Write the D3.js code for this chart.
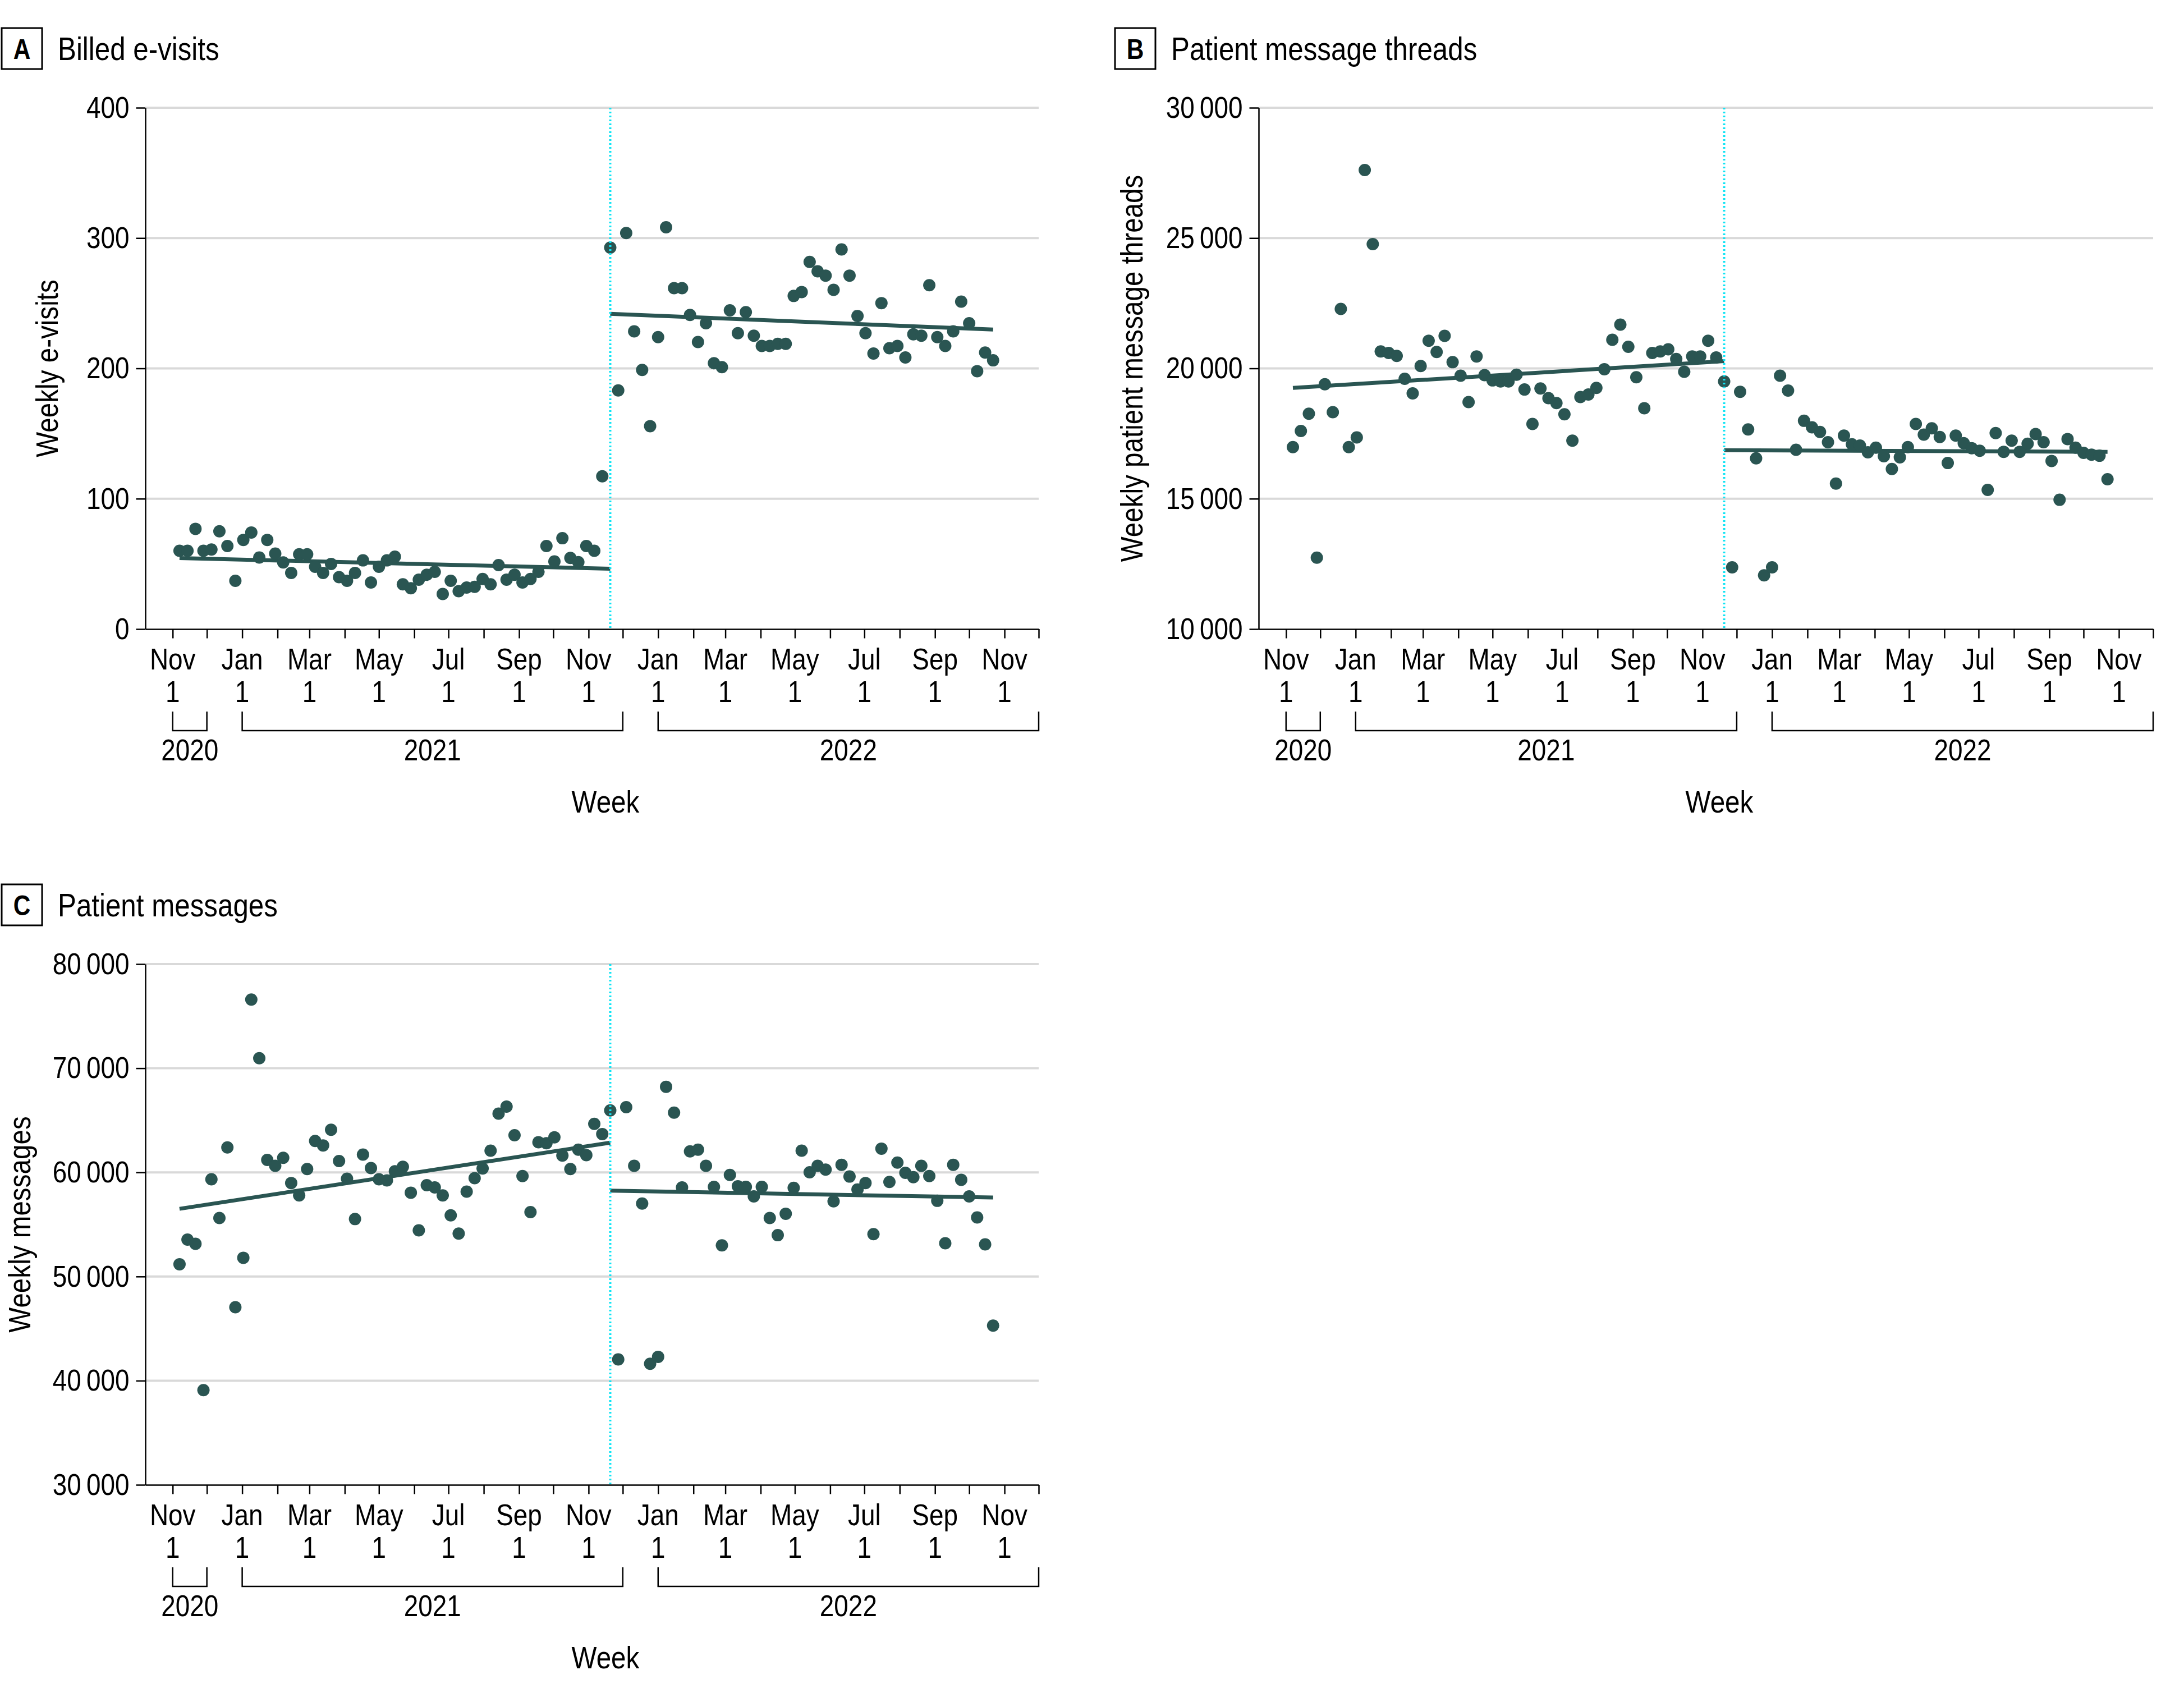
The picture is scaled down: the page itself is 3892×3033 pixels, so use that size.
<!DOCTYPE html>
<html>
<head>
<meta charset="utf-8">
<script src="https://cdn.jsdelivr.net/npm/d3@7"></script>
<style>
  body { margin: 0; background: #fff; }
  text { font-family: "Liberation Sans", Arial, sans-serif; fill: #000; }
</style>
</head>
<body>
<svg id="chart" width="3892" height="3033"></svg>
<script>
// weekly counts, first week 2020-11-07, 103 weeks
const eVisits = [
  60.1, 60.1, 76.9, 60.1, 61, 75, 63.7, 37, 68.4, 74.1,
  54.9, 68.4, 57.9, 51.1, 43.1, 57.4, 57.4, 47.8, 43.1, 50,
  39.8, 37, 43.1, 52.7, 35.7, 47.8, 52.7, 55.5, 34.3, 31.3,
  37.9, 41.7, 43.9, 26.9, 37, 29.1, 31.9, 32.4, 38.4, 34.3,
  49.1, 37.9, 41.7, 35.7, 38.4, 43.9, 63.7, 51.9, 69.7, 54.6,
  51.3, 63.7, 60.1, 117.2, 292.7, 183.1, 303.9, 228.4, 198.8, 155.7,
  224, 308.3, 261.6, 261.6, 241, 220.2, 234.7, 204, 201, 244.6,
  227, 243.2, 225.1, 217.2, 217.2, 218.8, 218.8, 255.6, 258.6, 281.7,
  274.5, 271.2, 260.3, 291.3, 271.2, 240.2, 227, 211.4, 250.1, 215.5,
  217.2, 208.4, 226.2, 225.1, 263.8, 224, 217.2, 228.4, 251.2, 234.7,
  197.9, 212.2, 206.2
];
const threads = [
  16980, 17600, 18260, 12740, 19390, 18320, 22280, 16980, 17350, 27610,
  24770, 20650, 20590, 20480, 19600, 19040, 20090, 21060, 20630, 21250,
  20240, 19720, 18710, 20460, 19740, 19540, 19500, 19500, 19760, 19190,
  17870, 19230, 18860, 18670, 18240, 17230, 18900, 19000, 19250, 19970,
  21100, 21680, 20830, 19660, 18470, 20590, 20650, 20730, 20360, 19870,
  20460, 20460, 21060, 20420, 19500, 12370, 19100, 17660, 16550, 12060,
  12370, 19720, 19150, 16880, 17990, 17740, 17560, 17170, 15580, 17420,
  17090, 17040, 16780, 16960, 16630, 16140, 16590, 16980, 17870, 17460,
  17700, 17370, 16370, 17420, 17130, 16940, 16840, 15340, 17520, 16800,
  17230, 16800, 17110, 17480, 17170, 16450, 14960, 17290, 16960, 16760,
  16690, 16650, 15750
];
const messages = [
  51180, 53550, 53140, 39090, 59340, 55620, 62390, 47050, 51800, 76590,
  70960, 61200, 60630, 61400, 58980, 57790, 60320, 63010, 62590, 64090,
  61090, 59390, 55520, 61710, 60420, 59340, 59230, 60110, 60530, 58050,
  54430, 58770, 58560, 57790, 55880, 54120, 58150, 59440, 60370, 62080,
  65640, 66310, 63570, 59650, 56190, 62900, 62800, 63370, 61610, 60320,
  62180, 61660, 64660, 63680, 65950, 42040, 66260, 60630, 57010, 41620,
  42290, 68220, 65740, 58560, 62020, 62180, 60630, 58610, 52990, 59750,
  58670, 58610, 57690, 58610, 55620, 53970, 56030, 58510, 62080, 60010,
  60630, 60270, 57220, 60730, 59600, 58360, 58980, 54070, 62280, 59080,
  60940, 59960, 59540, 60630, 59650, 57270, 53190, 60730, 59290, 57690,
  55670, 53090, 45290
];

// segmented regression lines: [value at start, value at end] for pre and post
const eVisitsTrend = [[54.5, 46.3], [241.9, 229.8]];
const threadsTrend = [[19250, 20280], [16860, 16800]];
const messagesTrend = [[56500, 62850], [58250, 57580]];

const eVisitsTicks = [0, 100, 200, 300, 400];
const threadsTicks = [10000, 15000, 20000, 25000, 30000];
const messagesTicks = [30000, 40000, 50000, 60000, 70000, 80000];

const yearLabels = ["2020", "2021", "2022"];
const yearStarts = ["2020-11-01", "2021-01-01", "2022-01-01"];
const yearEnds = ["2020-12-01", "2021-12-01", "2022-12-01"];

const firstWeek = "2020-11-07";
const breakIndex = 54; // week of the policy change (dotted line)
const axisStart = "2020-10-08", axisEnd = "2022-12-01";

const panels = [
  { letter: "A", title: "Billed e-visits", yLabel: "Weekly e-visits", values: eVisits, trend: eVisitsTrend,
    ticks: eVisitsTicks, left: 259, top: 192, width: 1592, height: 929, labelGap: 156 },
  { letter: "B", title: "Patient message threads", yLabel: "Weekly patient message threads", values: threads, trend: threadsTrend,
    ticks: threadsTicks, left: 2243, top: 192, width: 1594, height: 929, labelGap: 207 },
  { letter: "C", title: "Patient messages", yLabel: "Weekly messages", values: messages, trend: messagesTrend,
    ticks: messagesTicks, left: 259, top: 1718, width: 1592, height: 928, labelGap: 205 }
];

const dark = "#2a5552";
const squeeze = 0.85; // the journal face is a condensed sans
const fmt = d3.formatLocale({ decimal: ".", thousands: "\u2009", grouping: [3], currency: ["", ""] }).format(",d");
const parse = d3.utcParse("%Y-%m-%d");
const weeks = d3.range(eVisits.length).map(i => d3.utcDay.offset(parse(firstWeek), 7 * i));
const months = d3.utcMonth.range(parse("2020-11-01"), parse("2022-12-02"));
const monthName = d3.utcFormat("%b");

const svg = d3.select("#chart");
svg.append("rect").attr("width", 3892).attr("height", 3033).attr("fill", "#fff");

panels.forEach(p => {
  const g = svg.append("g").attr("transform", `translate(${p.left},${p.top})`);
  const x = d3.scaleUtc().domain([parse(axisStart), parse(axisEnd)]).range([0, p.width]);
  const y = d3.scaleLinear().domain(d3.extent(p.ticks)).range([p.height, 0]);

  // gridlines
  g.append("g").selectAll("line").data(p.ticks.slice(1)).join("line")
    .attr("x1", 0).attr("x2", p.width)
    .attr("y1", d => y(d)).attr("y2", d => y(d))
    .attr("stroke", "#d9d9d9").attr("stroke-width", 4);

  // trend segments
  const segs = [
    [[weeks[0], p.trend[0][0]], [weeks[breakIndex], p.trend[0][1]]],
    [[weeks[breakIndex], p.trend[1][0]], [weeks[weeks.length - 1], p.trend[1][1]]]
  ];
  g.append("g").selectAll("line").data(segs).join("line")
    .attr("x1", d => x(d[0][0])).attr("y1", d => y(d[0][1]))
    .attr("x2", d => x(d[1][0])).attr("y2", d => y(d[1][1]))
    .attr("stroke", dark).attr("stroke-width", 7);

  // weekly points
  g.append("g").selectAll("circle").data(p.values).join("circle")
    .attr("cx", (d, i) => x(weeks[i]))
    .attr("cy", d => y(d))
    .attr("r", 11)
    .attr("fill", dark);

  // policy change line
  g.append("line")
    .attr("x1", x(weeks[breakIndex])).attr("x2", x(weeks[breakIndex]))
    .attr("y1", 0).attr("y2", p.height)
    .attr("stroke", "#10e4f4").attr("stroke-width", 4)
    .attr("stroke-dasharray", "3 4");

  // y axis
  const ya = g.append("g")
    .call(d3.axisLeft(y).tickValues(p.ticks).tickFormat(fmt).tickSize(16.5).tickSizeOuter(0).tickPadding(12))
    .attr("font-size", 54);
  ya.selectAll("line, path").attr("stroke", "#000").attr("stroke-width", 2.5);

  // x axis, monthly ticks, labels every second month
  const xa = g.append("g").attr("transform", `translate(0,${p.height})`)
    .call(d3.axisBottom(x).tickValues(months).tickFormat("").tickSize(16.5).tickSizeOuter(0));
  xa.selectAll("line, path").attr("stroke", "#000").attr("stroke-width", 2.5);

  const lab = g.append("g").attr("font-size", 54).attr("text-anchor", "middle")
    .selectAll("text").data(months.filter((m, i) => i % 2 === 0)).join("text")
    .attr("x", d => x(d));
  lab.append("tspan").attr("y", p.height + 72).text(d => monthName(d));
  lab.append("tspan").attr("x", d => x(d)).attr("y", p.height + 130).text("1");

  // year brackets
  g.append("g").selectAll("path").data(yearLabels).join("path")
    .attr("d", (d, i) => {
      const x0 = x(parse(yearStarts[i])), x1 = x(parse(yearEnds[i]));
      return `M${x0},${p.height + 147}V${p.height + 181}H${x1}V${p.height + 147}`;
    })
    .attr("fill", "none").attr("stroke", "#000").attr("stroke-width", 2.5);
  g.append("g").attr("font-size", 54).attr("text-anchor", "middle")
    .selectAll("text").data(yearLabels).join("text")
    .attr("x", (d, i) => (x(parse(yearStarts[i])) + x(parse(yearEnds[i]))) / 2)
    .attr("y", p.height + 234)
    .text(d => d);

  // axis titles
  g.append("text")
    .attr("x", p.width / 2 + 24).attr("y", p.height + 327)
    .attr("text-anchor", "middle").attr("font-size", 56)
    .text("Week");
  g.append("text")
    .attr("transform", `translate(${-p.labelGap},${p.height / 2}) rotate(-90)`)
    .attr("text-anchor", "middle").attr("font-size", 56)
    .text(p.yLabel);

  // panel letter + title
  g.append("rect")
    .attr("x", -256).attr("y", -142).attr("width", 72).attr("height", 73)
    .attr("fill", "none").attr("stroke", "#000").attr("stroke-width", 3);
  g.append("text")
    .attr("x", -220).attr("y", -87)
    .attr("text-anchor", "middle").attr("font-size", 50).attr("font-weight", "bold")
    .text(p.letter);
  g.append("text")
    .attr("x", -156).attr("y", -85).attr("font-size", 58)
    .text(p.title);
});

// narrow every label to mimic the condensed face
svg.selectAll("text").each(function () {
  const tspans = d3.select(this).selectAll("tspan").nodes();
  (tspans.length ? tspans : [this]).forEach(n => {
    const w = n.getComputedTextLength();
    if (w > 0) d3.select(n).attr("textLength", w * squeeze).attr("lengthAdjust", "spacingAndGlyphs");
  });
});
</script>
</body>
</html>
